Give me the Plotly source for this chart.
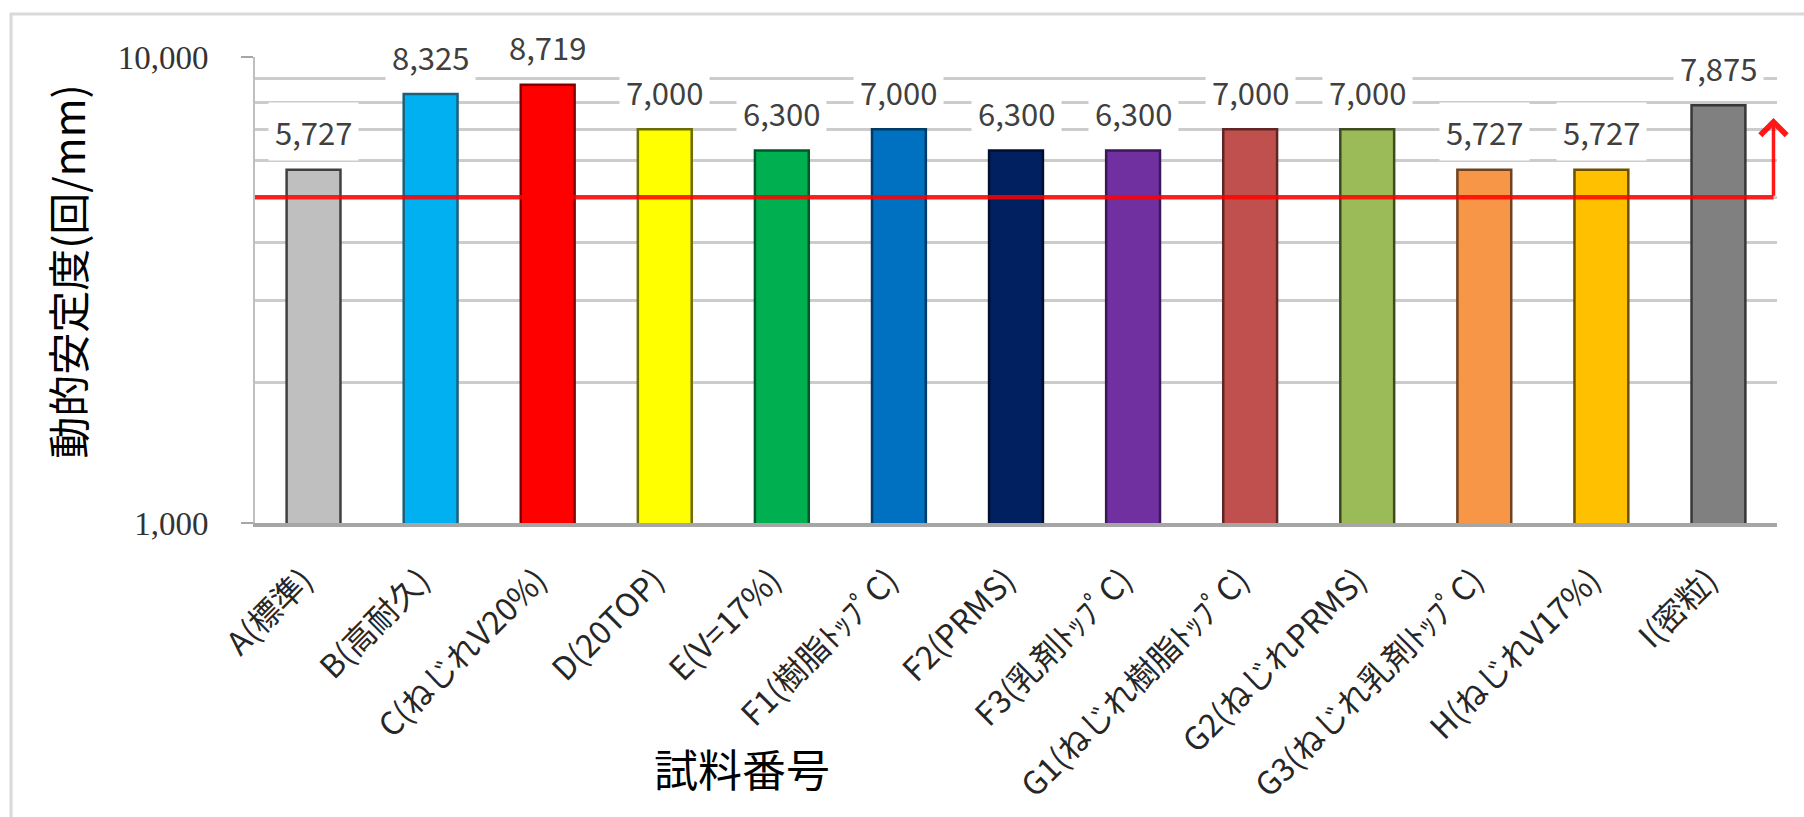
import math
import plotly.graph_objects as go

# Sample names (x categories) and measured dynamic stability (cycles/mm)
samples = [
    "A(標準)", "B(高耐久)", "C(ねじれV20%)", "D(20TOP)", "E(V=17%)",
    "F1(樹脂ﾄｯﾌﾟC)", "F2(PRMS)", "F3(乳剤ﾄｯﾌﾟC)", "G1(ねじれ樹脂ﾄｯﾌﾟC)",
    "G2(ねじれPRMS)", "G3(ねじれ乳剤ﾄｯﾌﾟC)", "H(ねじれV17%)", "I(密粒)",
]
stability = [5727, 8325, 8719, 7000, 6300, 7000, 6300, 6300, 7000, 7000, 5727, 5727, 7875]

# Reference level and the upward arrow marking the required side
threshold = 5000
arrow_top = 7400
arrow_x = 12.47

y_tickvals = [1000, 10000]
y_ticktext = ["1,000", "10,000"]
y_minor = [2000, 3000, 4000, 5000, 6000, 7000, 8000, 9000]

fill_colors = [
    "#BFBFBF", "#00B0F0", "#FF0000", "#FFFF00", "#00B050", "#0070C0", "#002060",
    "#7030A0", "#C0504D", "#9BBB59", "#F79646", "#FFC000", "#808080",
]
edge_colors = [
    "#404040", "#1F5F7A", "#7F0000", "#6B6B00", "#00582A", "#003A66", "#000F30",
    "#3A1858", "#5E2624", "#3E4A22", "#6E4321", "#6B5000", "#383838",
]

JP = "Noto Sans CJK JP"

fig = go.Figure()
fig.add_trace(go.Bar(
    x=samples,
    y=stability,
    width=0.46,
    marker=dict(color=fill_colors, line=dict(color=edge_colors, width=2.5)),
    hoverinfo="x+y",
    showlegend=False,
))

# Threshold line on a hidden numeric x-axis laid over the category axis
fig.add_trace(go.Scatter(
    x=[-0.5, arrow_x], y=[threshold, threshold],
    xaxis="x2", yaxis="y",
    mode="lines",
    line=dict(color="rgba(255,0,0,0.85)", width=4.5),
    hoverinfo="skip", showlegend=False,
))
fig.add_annotation(
    x=arrow_x, y=math.log10(arrow_top), xref="x2", yref="y",
    ax=arrow_x, ay=math.log10(threshold), axref="x2", ayref="y",
    text="", showarrow=True, arrowhead=4, arrowsize=1.45, arrowwidth=3.5,
    arrowcolor="rgba(255,0,0,0.9)",
)

# Value labels on white boxes above each bar
for name, v in zip(samples, stability):
    fig.add_annotation(
        x=name, y=math.log10(v), xref="x", yref="y",
        text=f"{v:,}", showarrow=False,
        yanchor="middle", yshift=38,
        bgcolor="white", borderpad=6,
        font=dict(family=JP, size=31, color="#404040"),
    )

# Axis titles
fig.add_annotation(
    xref="paper", yref="paper", x=-0.1235, y=0.539,
    xanchor="center", yanchor="middle",
    text="動的安定度(回/mm)", textangle=-90, showarrow=False,
    font=dict(family=JP, size=42, color="black"),
)
fig.add_annotation(
    xref="paper", yref="paper", x=0.32, y=-0.526,
    xanchor="center", yanchor="middle",
    text="試料番号", showarrow=False,
    font=dict(family=JP, size=44, color="black"),
)

# Outer chart border (left and top edges fall inside the page)
fig.add_shape(
    type="rect", xref="paper", yref="paper",
    x0=-0.1603, x1=1.05, y0=-0.75, y1=1.0923,
    line=dict(color="#D9D9D9", width=3), layer="below",
)

fig.update_layout(
    width=1804, height=817,
    margin=dict(l=255, r=27, t=57, b=294),
    paper_bgcolor="white", plot_bgcolor="white",
    xaxis2=dict(overlaying="x", range=[-0.5, 12.5], visible=False),
)
fig.layout.xaxis.update(
    range=[-0.5, 12.5],
    tickangle=-45,
    tickfont=dict(family=JP, size=32, color="#262626"),
    showline=True, linecolor="#A6A6A6", linewidth=4,
    ticks="", showgrid=False,
    ticklabelstandoff=22,
    ticklabelshift=-10,
    automargin=False,
)
fig.update_yaxes(
    type="log", range=[3, 4],
    tickvals=y_tickvals, ticktext=y_ticktext,
    tickfont=dict(family="Liberation Serif", size=33, color="#333333"),
    ticks="outside", ticklen=12, tickcolor="#A6A6A6", tickwidth=2,
    ticklabelstandoff=26,
    showline=True, linecolor="#BFBFBF", linewidth=2,
    showgrid=True, gridcolor="#A6A6A6", gridwidth=3,
    minor=dict(tickvals=y_minor, showgrid=True, gridcolor="#CCCCCC",
               gridwidth=2.5, ticklen=0),
    zeroline=False,
    automargin=False,
)

fig.write_html("out.html")
